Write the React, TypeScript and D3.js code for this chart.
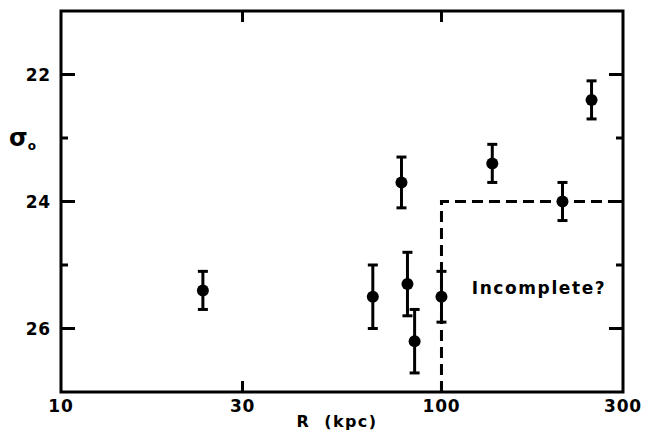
import React from "react";
import * as d3 from "d3";

const radius = [23.6, 66, 78.5, 81.4, 85, 100, 136, 208, 248];
const sigma = [25.4, 25.5, 23.7, 25.3, 26.2, 25.5, 23.4, 24.0, 22.4];
const sigmaErr = [0.3, 0.5, 0.4, 0.5, 0.5, 0.4, 0.3, 0.3, 0.3];
const xTickLabels = [10, 30, 100, 300];
const xInnerTicks = [30, 100];
const yMajorTicks = [22, 24, 26];
const yMinorTicks = [23, 25];
const limitR = [100, 100, 300];
const limitSigma = [27, 24, 24];

const W = 649;
const H = 436;
const FONT = "'DejaVu Sans', sans-serif";

export default function App() {
  const x = d3.scaleLog().domain([10, 300]).range([61, 623]);
  const y = d3.scaleLinear().domain([21, 27]).range([11, 392]);
  const [x0, x1] = x.range();
  const [y0, y1] = y.range();
  const sw = 3;

  const limitLine = d3
    .line<number>()
    .x((_, i) => x(limitR[i]))
    .y((d) => y(d))(limitSigma);

  return (
    <svg
      width={W}
      height={H}
      style={{ position: "absolute", left: 0, top: 0, background: "#fff" }}
    >
      {/* frame */}
      <rect
        x={x0}
        y={y0}
        width={x1 - x0}
        height={y1 - y0}
        fill="none"
        stroke="#000"
        strokeWidth={sw}
      />
      {/* y ticks, both sides */}
      {yMajorTicks.map((t) => (
        <g key={"ym" + t}>
          <line x1={x0} x2={x0 + 14} y1={y(t)} y2={y(t)} stroke="#000" strokeWidth={sw} />
          <line x1={x1} x2={x1 - 14} y1={y(t)} y2={y(t)} stroke="#000" strokeWidth={sw} />
          <text
            x={x0 - 10}
            y={y(t)}
            dy="0.36em"
            textAnchor="end"
            fontFamily={FONT}
            fontWeight="bold"
            fontSize={17}
            letterSpacing={0.8}
          >
            {t}
          </text>
        </g>
      ))}
      {yMinorTicks.map((t) => (
        <g key={"yn" + t}>
          <line x1={x0} x2={x0 + 7} y1={y(t)} y2={y(t)} stroke="#000" strokeWidth={sw} />
          <line x1={x1} x2={x1 - 7} y1={y(t)} y2={y(t)} stroke="#000" strokeWidth={sw} />
        </g>
      ))}
      {/* x ticks top and bottom */}
      {xInnerTicks.map((t) => (
        <g key={"xt" + t}>
          <line x1={x(t)} x2={x(t)} y1={y0} y2={y0 + 11} stroke="#000" strokeWidth={sw} />
          <line x1={x(t)} x2={x(t)} y1={y1} y2={y1 - 11} stroke="#000" strokeWidth={sw} />
        </g>
      ))}
      {xTickLabels.map((t) => (
        <text
          key={"xl" + t}
          x={x(t)}
          y={412}
          textAnchor="middle"
          fontFamily={FONT}
          fontWeight="bold"
          fontSize={17}
          letterSpacing={0.8}
        >
          {t}
        </text>
      ))}
      {/* axis titles */}
      <text
        x={337}
        y={427}
        textAnchor="middle"
        fontFamily={FONT}
        fontWeight="bold"
        fontSize={16}
        letterSpacing={1.4}
        xmlSpace="preserve"
      >
        {"R  (kpc)"}
      </text>
      <text x={9} y={146} fontFamily={FONT} fontWeight="bold" fontSize={24}>
        σ
        <tspan fontSize={12} dy={4}>
          o
        </tspan>
      </text>
      {/* completeness limit */}
      <path
        d={limitLine || ""}
        fill="none"
        stroke="#000"
        strokeWidth={sw}
        strokeDasharray="11,6"
      />
      <text
        x={539}
        y={294}
        textAnchor="middle"
        fontFamily={FONT}
        fontWeight="bold"
        fontSize={17}
        letterSpacing={1.6}
      >
        Incomplete?
      </text>
      {/* data */}
      {radius.map((r, i) => {
        const cx = x(r);
        const cy = y(sigma[i]);
        const ya = y(sigma[i] - sigmaErr[i]);
        const yb = y(sigma[i] + sigmaErr[i]);
        return (
          <g key={"p" + i}>
            <line x1={cx} x2={cx} y1={ya} y2={yb} stroke="#000" strokeWidth={3} />
            <line x1={cx - 5} x2={cx + 5} y1={ya} y2={ya} stroke="#000" strokeWidth={3} />
            <line x1={cx - 5} x2={cx + 5} y1={yb} y2={yb} stroke="#000" strokeWidth={3} />
            <circle cx={cx} cy={cy} r={6} fill="#000" />
          </g>
        );
      })}
    </svg>
  );
}
